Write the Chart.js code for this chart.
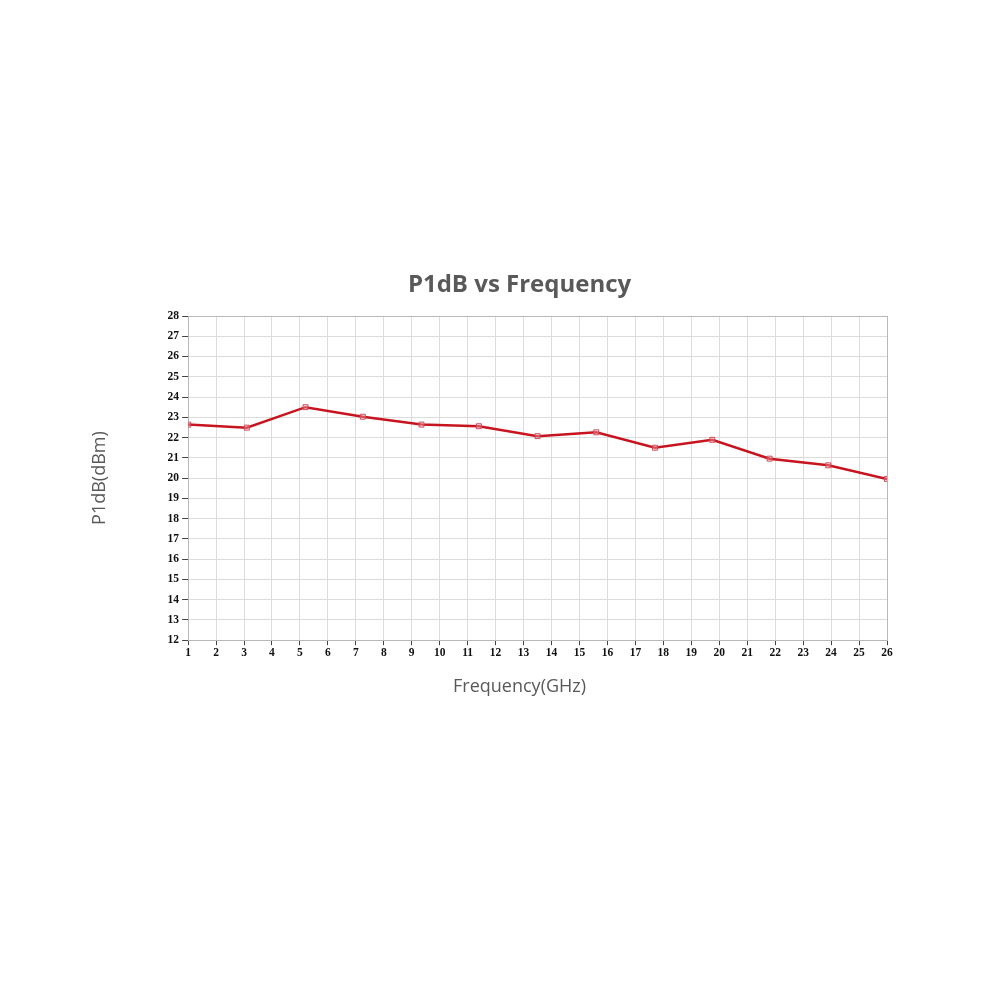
<!DOCTYPE html>
<html>
<head>
<meta charset="utf-8">
<script src="https://cdn.jsdelivr.net/npm/chart.js@4/dist/chart.umd.min.js"></script>
<style>
  html, body { margin: 0; padding: 0; background: #fff; }
  #wrap { width: 1000px; height: 1000px; }
</style>
</head>
<body>
<div id="wrap"><canvas id="myChart" width="1000" height="1000"></canvas></div>
<script>
// P1dB vs Frequency
const frequencias = [1, 3.1, 5.2, 7.25, 9.35, 11.4, 13.5, 15.6, 17.7, 19.75, 21.8, 23.9, 26];
const p1db = [22.64, 22.49, 23.5, 23.03, 22.64, 22.56, 22.07, 22.26, 21.5, 21.89, 20.96, 20.63, 19.96];

const titulo = 'P1dB vs Frequency';
const tituloX = 'Frequency(GHz)';
const tituloY = 'P1dB(dBm)';

const xMin = 1, xMax = 26;
const yMin = 12, yMax = 28;

const pontos = frequencias.map((f, i) => ({ x: f, y: p1db[i] }));

const corTexto = '#595959';
const fonteTick = { family: 'Liberation Serif', size: 11.5, weight: 'bold' };

// título e título do eixo X centrados no bloco todo (rótulos + área), como no original
const titulosCentrados = {
    id: 'titulosCentrados',
    afterDraw(c) {
        const a = c.chartArea;
        const cx = (a.left + a.right) / 2 - 18;
        const g = c.ctx;
        g.save();
        g.fillStyle = corTexto;
        g.textAlign = 'center';
        g.textBaseline = 'middle';
        g.font = 'bold 24px "Open Sans"';
        g.fillText(titulo, cx, a.top - 31);
        g.font = '18px "Open Sans"';
        g.fillText(tituloX, cx, a.bottom + 47);
        g.restore();
    }
};

const ctx = document.getElementById('myChart').getContext('2d');
const chart = new Chart(ctx, {
    type: 'line',
    data: {
        datasets: [{
            data: pontos,
            borderColor: '#c8141e',
            borderWidth: 2.5,
            pointStyle: 'rect',
            pointRadius: 3.5,
            pointBorderWidth: 1,
            pointBorderColor: '#d04a58',
            pointBackgroundColor: 'rgba(240,190,200,0.35)',
            tension: 0,
            fill: false
        }]
    },
    options: {
        responsive: false,
        animation: false,
        layout: { padding: { left: 0, right: 113, top: 316, bottom: 339 } },
        plugins: {
            legend: { display: false },
            tooltip: { enabled: false },
            title: { display: false }
        },
        scales: {
            x: {
                type: 'linear',
                min: xMin,
                max: xMax,
                ticks: { stepSize: 1, color: '#111', font: fonteTick, padding: 1, maxRotation: 0, autoSkip: false },
                grid: {
                    color: c => (c.tick && c.tick.value === xMax) ? '#b8b8b8' : '#dcdcdc',
                    lineWidth: 1,
                    tickColor: '#444',
                    tickLength: 5
                },
                border: { color: '#b8b8b8' }
            },
            y: {
                min: yMin,
                max: yMax,
                ticks: { stepSize: 1, color: '#111', font: fonteTick, padding: 3 },
                grid: {
                    color: c => (c.tick && c.tick.value === yMax) ? '#b8b8b8' : '#dcdcdc',
                    lineWidth: 1,
                    tickColor: '#444',
                    tickLength: 6
                },
                border: { color: '#b8b8b8' },
                title: {
                    display: true,
                    text: tituloY,
                    color: corTexto,
                    font: { family: 'Open Sans', size: 18 },
                    padding: { top: 89, bottom: 54 }
                }
            }
        }
    },
    plugins: [titulosCentrados]
});
</script>
</body>
</html>
